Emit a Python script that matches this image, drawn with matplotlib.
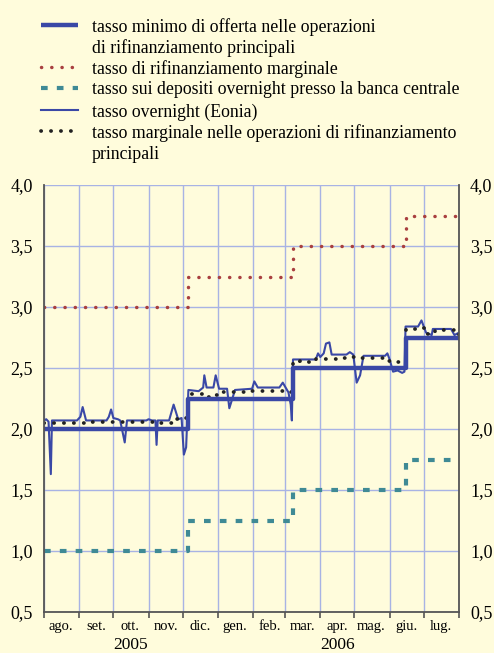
import matplotlib
matplotlib.use("Agg")
import matplotlib.pyplot as plt
import matplotlib.transforms as mtransforms
from matplotlib.lines import Line2D
import pandas as pd

plt.rcParams["font.family"] = ["Liberation Serif", "DejaVu Serif"]

# policy rates (step changes)
policy_dates = ["2005-08-01", "2005-12-06", "2006-03-08", "2006-06-15", "2006-08-01"]
mro_min_bid = [2.00, 2.25, 2.50, 2.75, 2.75]
marginal_lending = [3.00, 3.25, 3.50, 3.75, 3.75]
deposit_rate = [1.00, 1.25, 1.50, 1.75, 1.75]

# weekly marginal rate in main refinancing operations
mro_marg_dates = [
    "2005-08-01", "2005-08-09", "2005-08-16", "2005-08-23", "2005-08-30",
    "2005-09-06", "2005-09-13", "2005-09-20", "2005-09-27", "2005-10-04",
    "2005-10-11", "2005-10-18", "2005-10-25", "2005-11-01", "2005-11-08",
    "2005-11-15", "2005-11-22", "2005-11-29", "2005-12-06", "2005-12-13",
    "2005-12-20", "2005-12-27", "2006-01-03", "2006-01-10", "2006-01-17",
    "2006-01-24", "2006-01-31", "2006-02-07", "2006-02-14", "2006-02-21",
    "2006-02-28", "2006-03-08", "2006-03-14", "2006-03-21", "2006-03-28",
    "2006-04-04", "2006-04-11", "2006-04-18", "2006-04-25", "2006-05-02",
    "2006-05-09", "2006-05-16", "2006-05-23", "2006-05-30", "2006-06-06",
    "2006-06-15", "2006-06-20", "2006-06-27", "2006-07-04", "2006-07-11",
    "2006-07-18", "2006-07-25", "2006-08-01",
]
mro_marg_vals = [
    2.05, 2.05, 2.05, 2.05, 2.05,
    2.06, 2.06, 2.06, 2.06, 2.06,
    2.06, 2.06, 2.06, 2.06, 2.05,
    2.05, 2.08, 2.09, 2.29, 2.29,
    2.26, 2.28, 2.30, 2.30, 2.30,
    2.30, 2.31, 2.31, 2.31, 2.31,
    2.30, 2.56, 2.55, 2.55, 2.57,
    2.57, 2.57, 2.58, 2.59, 2.58,
    2.58, 2.58, 2.58, 2.56, 2.55,
    2.82, 2.82, 2.83, 2.78, 2.80,
    2.81, 2.81, 2.77,
]

# overnight rate (Eonia)
eonia_dates = [
    "2005-08-01", "2005-08-03", "2005-08-05", "2005-08-07", "2005-08-08",
    "2005-08-30", "2005-09-02", "2005-09-04", "2005-09-07", "2005-09-25",
    "2005-09-27", "2005-09-29", "2005-10-01", "2005-10-05", "2005-10-07",
    "2005-10-11", "2005-10-13", "2005-10-30", "2005-11-01", "2005-11-04",
    "2005-11-07", "2005-11-08", "2005-11-09", "2005-11-19", "2005-11-23",
    "2005-11-27", "2005-11-30", "2005-12-02", "2005-12-04", "2005-12-06",
    "2005-12-15", "2005-12-19", "2005-12-20", "2005-12-22", "2005-12-28",
    "2005-12-30", "2006-01-02", "2006-01-09", "2006-01-11", "2006-01-16",
    "2006-01-31", "2006-02-02", "2006-02-05", "2006-02-24", "2006-02-27",
    "2006-03-04", "2006-03-06", "2006-03-07", "2006-03-08", "2006-03-28",
    "2006-03-30", "2006-04-01", "2006-04-04", "2006-04-06", "2006-04-09",
    "2006-04-11", "2006-04-24", "2006-04-27", "2006-04-30", "2006-05-03",
    "2006-05-06", "2006-05-09", "2006-05-28", "2006-05-30", "2006-06-01",
    "2006-06-04", "2006-06-08", "2006-06-12", "2006-06-14", "2006-06-15",
    "2006-06-26", "2006-06-29", "2006-07-03", "2006-07-08", "2006-07-09",
    "2006-07-25", "2006-07-28", "2006-08-01",
]
eonia_vals = [
    2.07, 2.08, 2.06, 1.63, 2.07,
    2.07, 2.10, 2.18, 2.07, 2.07,
    2.10, 2.16, 2.09, 2.08, 2.07,
    1.89, 2.07, 2.07, 2.08, 2.07,
    2.07, 1.87, 2.07, 2.07, 2.20,
    2.08, 2.09, 1.79, 1.85, 2.32,
    2.31, 2.34, 2.44, 2.34, 2.34,
    2.44, 2.33, 2.33, 2.17, 2.32,
    2.33, 2.39, 2.34, 2.34, 2.38,
    2.30, 2.20, 2.07, 2.57, 2.57,
    2.62, 2.59, 2.62, 2.70, 2.71,
    2.61, 2.61, 2.63, 2.61, 2.38,
    2.44, 2.60, 2.60, 2.62, 2.57,
    2.47, 2.48, 2.46, 2.47, 2.84,
    2.84, 2.89, 2.79, 2.77, 2.82,
    2.82, 2.77, 2.79,
]

month_starts = pd.date_range("2005-08-01", "2006-08-01", freq="MS")
month_labels = ["ago.", "set.", "ott.", "nov.", "dic.", "gen.", "feb.",
                "mar.", "apr.", "mag.", "giu.", "lug."]
years = ["2005", "2006"]
year_centers = ["2005-10-16", "2006-04-16"]
y_ticks = [0.5, 1.0, 1.5, 2.0, 2.5, 3.0, 3.5, 4.0]

bg = "#fffcdc"
blue = "#3a48a6"
red = "#a94040"
teal = "#3f8a95"
grid_c = "#a8b3e4"

# line styles shared by plot and legend
style_mro = dict(color=blue, lw=3.2, solid_capstyle="butt")
style_marg = dict(color=red, lw=2.5, linestyle=(0, (0.05, 2.9)), dash_capstyle="round")
style_dep = dict(color=teal, lw=3.0, linestyle=(0, (1.6, 2.2)), dash_capstyle="butt")
style_eon = dict(color=blue, lw=1.5)
style_dots = dict(color="#222222", lw=2.7, linestyle=(0, (0.05, 2.6)), dash_capstyle="round")

fig = plt.figure(figsize=(4.94, 6.53), dpi=100, facecolor=bg)
ax = fig.add_axes([44 / 494, 1 - 612 / 653, 415 / 494, 427 / 653])
ax.set_facecolor(bg)

pd_dates = pd.to_datetime(policy_dates)
ax.step(pd_dates, marginal_lending, where="post", **style_marg)
ax.step(pd_dates, deposit_rate, where="post", **style_dep)
ax.plot(pd.to_datetime(eonia_dates), eonia_vals, **style_eon)
ax.step(pd.to_datetime(mro_marg_dates), mro_marg_vals, where="post", **style_dots)
ax.step(pd_dates, mro_min_bid, where="post", **style_mro)

ax.set_xlim(month_starts[0], month_starts[-1])
ax.set_ylim(0.5, 4.0)

# grid
for d in month_starts:
    ax.axvline(d, color=grid_c, lw=1.0, zorder=0)
for y in y_ticks:
    ax.axhline(y, color=grid_c, lw=1.0, zorder=0)

ax.set_yticks(y_ticks)
ax.set_yticklabels([f"{v:.1f}".replace(".", ",") for v in y_ticks])
ax.tick_params(axis="y", length=0, labelsize=13, pad=8,
               labelleft=True, labelright=True, left=False, right=False)

ax.set_xticks(month_starts)
ax.set_xticklabels([])
ax.tick_params(axis="x", which="major", direction="out", length=4,
               width=1.2, color="#555555")
mids = month_starts[:-1] + pd.Timedelta(days=15)
ax.set_xticks(mids, minor=True)
ax.set_xticklabels(month_labels, minor=True)
ax.tick_params(axis="x", which="minor", length=0, labelsize=10.5, pad=6)

trans = mtransforms.blended_transform_factory(ax.transData, ax.transAxes)
for yr, c in zip(years, year_centers):
    ax.text(pd.Timestamp(c), -0.078, yr, transform=trans, ha="center",
            va="center", fontsize=12.5)

for side in ["left", "right", "bottom"]:
    ax.spines[side].set_color("#555555")
    ax.spines[side].set_linewidth(1.3)
ax.spines["top"].set_visible(False)

# legend drawn by hand to match the layout
entries = [
    (style_mro, ["tasso minimo di offerta nelle operazioni", "di rifinanziamento principali"]),
    (style_marg, ["tasso di rifinanziamento marginale"]),
    (style_dep, ["tasso sui depositi overnight presso la banca centrale"]),
    (style_eon, ["tasso overnight (Eonia)"]),
    (style_dots, ["tasso marginale nelle operazioni di rifinanziamento", "principali"]),
]
row_px = [25, 67, 88, 110, 131]
line_step = 21
for (st, lines), ypx in zip(entries, row_px):
    yf = 1 - ypx / 653
    fig.add_artist(Line2D([41 / 494, 78 / 494], [yf, yf], transform=fig.transFigure, **st))
    for i, txt in enumerate(lines):
        fig.text(92 / 494, 1 - (ypx + i * line_step) / 653, txt, ha="left",
                 va="center_baseline", fontsize=12.8)

fig.savefig("out.png", dpi=100, facecolor=bg)
